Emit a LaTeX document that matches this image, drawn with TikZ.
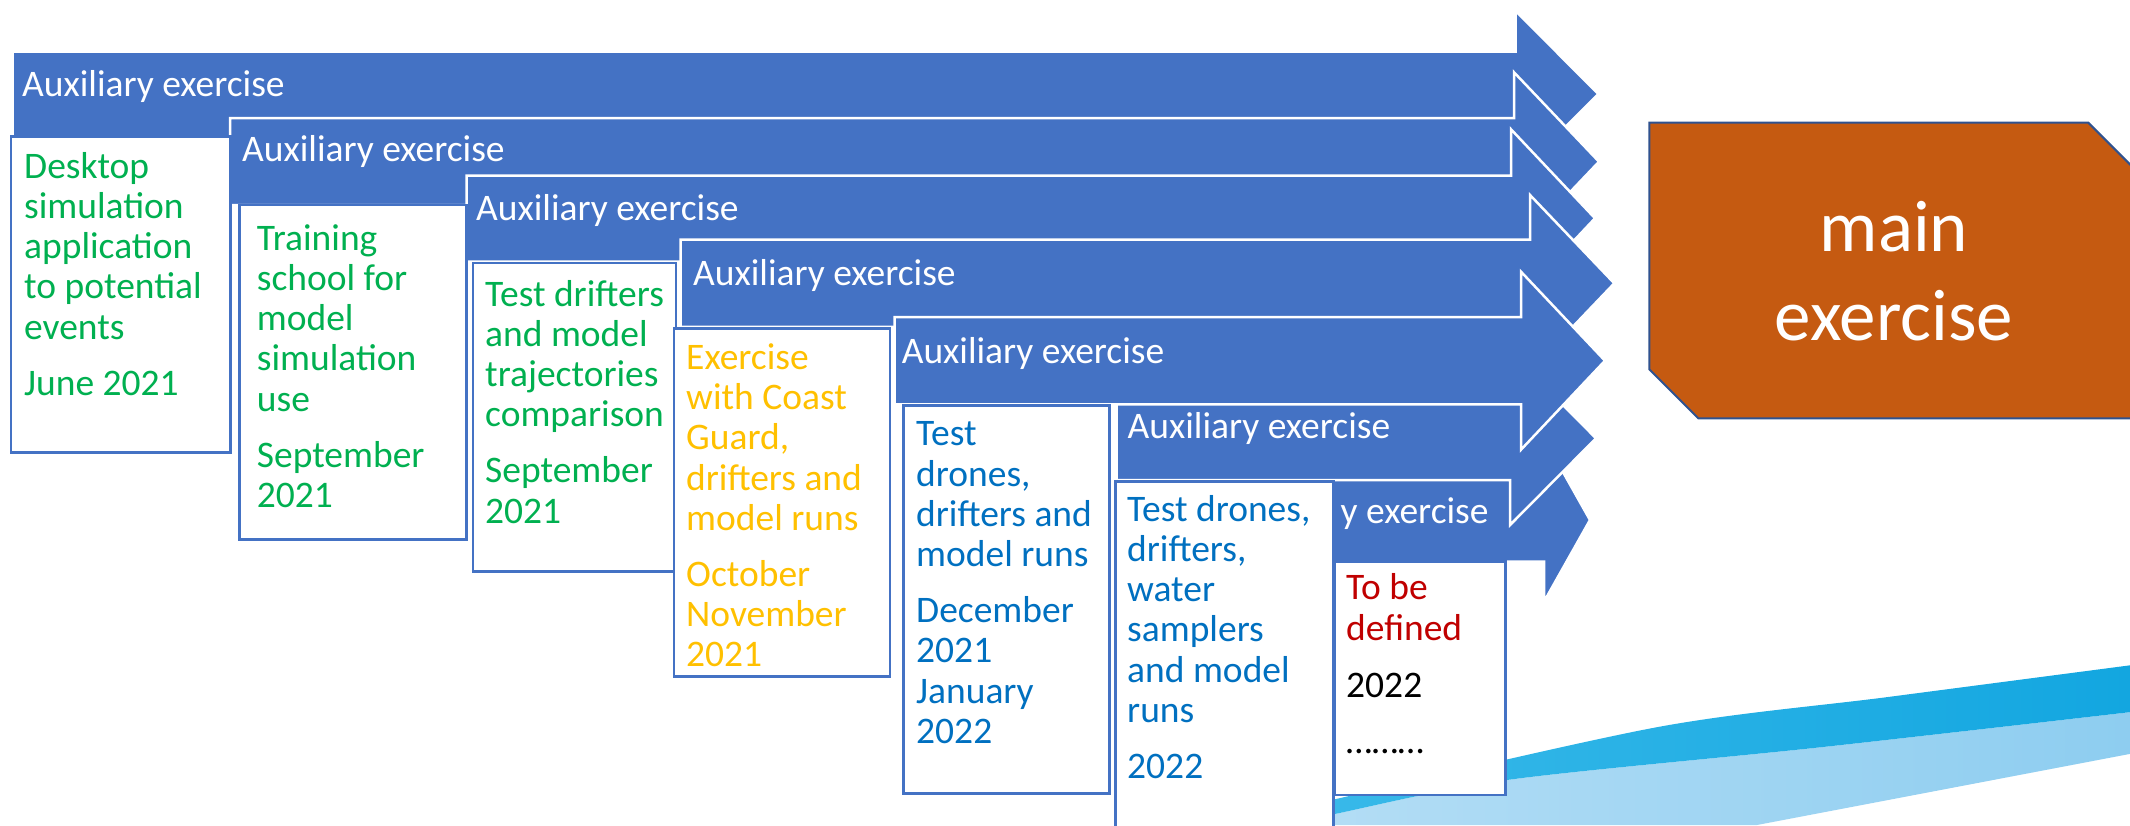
\documentclass[tikz,border=0pt]{standalone}
\usepackage{fontspec}
\setmainfont{Carlito}
\definecolor{auxblue}{HTML}{4472C4}
\definecolor{boxblue}{HTML}{4472C4}
\definecolor{txtgreen}{HTML}{00B050}
\definecolor{txtorange}{HTML}{FFC000}
\definecolor{txtblue}{HTML}{0070C0}
\definecolor{txtred}{HTML}{C00000}
\definecolor{mainfill}{HTML}{C55A11}
\definecolor{mainedge}{HTML}{2F528F}
\definecolor{wavedark}{HTML}{12A6E0}
\definecolor{wavedarkl}{HTML}{3CBBEA}
\definecolor{wavelight}{HTML}{8DCDF0}
\definecolor{wavelightl}{HTML}{B5DEF5}
\begin{document}
\begin{tikzpicture}[x=1pt,y=-1pt,
  auxarrow/.style={fill=auxblue, draw=white, line width=2.5pt, line join=miter},
  stagebox/.style={fill=white, draw=boxblue, line width=2.5pt},
  auxlabel/.style={anchor=base west, inner sep=0pt, text=white, font=\fontsize{37.5}{40.3}\selectfont},
  boxtext/.style={anchor=base west, inner sep=0pt, align=left, font=\fontsize{37.5}{40.3}\selectfont},
  mainshape/.style={fill=mainfill, draw=mainedge, line width=2pt}]
\useasboundingbox (0,0) rectangle (2130,825);
\clip (0,0) rectangle (2130,825);

% decorative wave (bottom right)
\shade[left color=wavelightl, right color=wavelight]
  plot[smooth] coordinates {(1280,825) (1330,815) (1507,780) (1823,747) (2140,711)}
  -- (2140,752) -- (1757,825) -- cycle;
\shade[left color=wavedarkl, right color=wavedark]
  plot[smooth] coordinates {(1230,825) (1336,799) (1658,727) (1888,697) (2140,664)}
  -- plot[smooth] coordinates {(2140,711) (1823,747) (1507,780) (1330,815) (1280,825)}
  -- cycle;

% arrows (z-order: 1,2,3,4,7,6,5)
\path[auxarrow] (12.7,51.7) -- (1515.7,51.7) -- (1515.7,11) -- (1598.3,94) -- (1515.7,177) -- (1515.7,136.3) -- (12.7,136.3) -- cycle;
\path[auxarrow] (230,118) -- (1514,118) -- (1514,72.3) -- (1599,161.7) -- (1514,251) -- (1514,205) -- (230,205) -- cycle;
\path[auxarrow] (466.5,175.5) -- (1511,175.5) -- (1511,129.3) -- (1595,218.3) -- (1511,307.3) -- (1511,261.6) -- (466.5,261.6) -- cycle;
\path[auxarrow] (680.7,239.5) -- (1530,239.5) -- (1530,195) -- (1614.3,283.3) -- (1530,371.6) -- (1530,326.8) -- (680.7,326.8) -- cycle;
\path[auxarrow] (1220,478.3) -- (1544,478.3) -- (1544,438.3) -- (1590,520) -- (1544,601.7) -- (1544,561.7) -- (1220,561.7) -- cycle;
\path[auxarrow] (1116.6,396.6) -- (1510,396.6) -- (1510,351.6) -- (1596,438.3) -- (1510,525) -- (1510,480) -- (1116.6,480) -- cycle;
\path[auxarrow] (894.6,317) -- (1521,317) -- (1521,271.7) -- (1605,360.7) -- (1521,449.7) -- (1521,404.4) -- (894.6,404.4) -- cycle;

\node[auxlabel] (lab1) at (22,96.7) {Auxiliary exercise};
\node[auxlabel] (lab2) at (242,161.7) {Auxiliary exercise};
\node[auxlabel] (lab3) at (476,220) {Auxiliary exercise};
\node[auxlabel] (lab4) at (693,285) {Auxiliary exercise};
\node[auxlabel] (lab5) at (901.6,363.3) {Auxiliary exercise};
\node[auxlabel] (lab6) at (1127.5,438.3) {Auxiliary exercise};
\node[auxlabel] (lab7) at (1340.5,523.3) {y exercise};

% stage boxes
\path[stagebox] (11,136.7) rectangle (230.7,452.7);
\path[stagebox] (239.3,205) rectangle (466.7,539.3);
\path[stagebox] (473,263) rectangle (676,571.7);
\path[stagebox] (674,328.3) rectangle (890,676.7);
\path[stagebox] (903.3,405.5) rectangle (1109.3,793.3);
\path[stagebox] (1115.5,481.7) rectangle (1333.6,840);
\path[stagebox] (1334.7,561.7) rectangle (1505.4,795);

% multi-line nodes: anchor at the baseline of the LAST line
\node[boxtext, text=txtgreen] (t1) at (24,395)
  {Desktop\\simulation\\application\\to potential\\events\\[15.5pt]June 2021};
\node[boxtext, text=txtgreen] (t2) at (256.7,507.3)
  {Training\\school for\\model\\simulation\\use\\[15.5pt]September\\2021};
\node[boxtext, text=txtgreen] (t3) at (485,523)
  {Test drifters\\and model\\trajectories\\comparison\\[15.5pt]September\\2021};
\node[boxtext, text=txtorange] (t4) at (686,666.7)
  {Exercise\\with Coast\\Guard,\\drifters and\\model runs\\[15.5pt]October\\November\\2021};
\node[boxtext, text=txtblue] (t5) at (916,743.3)
  {Test\\drones,\\drifters and\\model runs\\[15.5pt]December\\2021\\January\\2022};
\node[boxtext, text=txtblue] (t6) at (1127,778.3)
  {Test drones,\\drifters,\\water\\samplers\\and model\\runs\\[15.5pt]2022};
\node[boxtext, text=txtred] (t7a) at (1346,640) {To be\\defined};
\node[boxtext, text=black] (t7b) at (1346,753.3) {2022\\[15.5pt]………};

% main exercise
\path[mainshape] (1649.3,122.7) -- (2088.3,122.7) -- (2139,173.4) -- (2139,418.3) -- (1698.3,418.3) -- (1649.3,369.3) -- cycle;
\node[anchor=base, inner sep=0pt, align=center, text=white, font=\fontsize{73}{88.3}\selectfont] (main) at (1894,340) {main\\exercise};
\end{tikzpicture}
\end{document}
